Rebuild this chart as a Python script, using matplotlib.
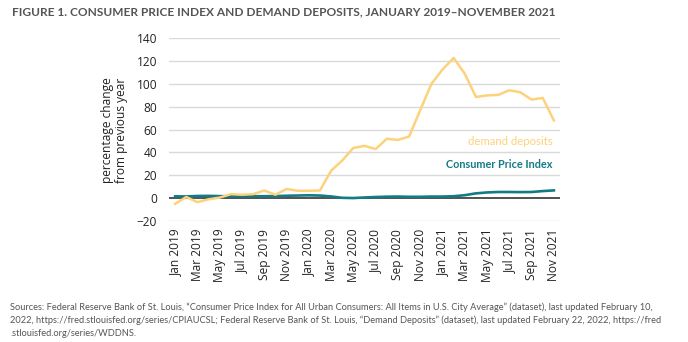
import matplotlib
matplotlib.use("Agg")
import matplotlib.pyplot as plt

months = ["Jan 2019", "Feb 2019", "Mar 2019", "Apr 2019", "May 2019", "Jun 2019",
          "Jul 2019", "Aug 2019", "Sep 2019", "Oct 2019", "Nov 2019", "Dec 2019",
          "Jan 2020", "Feb 2020", "Mar 2020", "Apr 2020", "May 2020", "Jun 2020",
          "Jul 2020", "Aug 2020", "Sep 2020", "Oct 2020", "Nov 2020", "Dec 2020",
          "Jan 2021", "Feb 2021", "Mar 2021", "Apr 2021", "May 2021", "Jun 2021",
          "Jul 2021", "Aug 2021", "Sep 2021", "Oct 2021", "Nov 2021"]

demand_deposits = [-5, 1, -3.5, -1, 0.5, 3.5, 3, 3.5, 6.7, 3, 8, 6.5,
                   6.5, 6.7, 24, 33, 44, 45.8, 43, 52, 51, 54, 77, 100,
                   112.6, 122.8, 109, 88.6, 90, 90.4, 94.5, 92.7, 86.3, 87.8, 68]

cpi = [1.6, 1.5, 1.9, 2.0, 1.8, 1.6, 1.8, 1.7, 1.7, 1.8, 2.1, 2.3,
       2.5, 2.3, 1.5, 0.3, 0.1, 0.6, 1.0, 1.3, 1.4, 1.2, 1.2, 1.4,
       1.4, 1.7, 2.6, 4.2, 5.0, 5.4, 5.4, 5.3, 5.4, 6.2, 6.8]

y_ticks = [-20, 0, 20, 40, 60, 80, 100, 120, 140]

title = "FIGURE 1. CONSUMER PRICE INDEX AND DEMAND DEPOSITS, JANUARY 2019\u2013NOVEMBER 2021"
y_label = "percentage change\nfrom previous year"
source_lines = [
    "Sources: Federal Reserve Bank of St. Louis, \u201cConsumer Price Index for All Urban Consumers: All Items in U.S. City Average\u201d (dataset), last updated February 10,",
    "2022, https://fred.stlouisfed.org/series/CPIAUCSL; Federal Reserve Bank of St. Louis, \u201cDemand Deposits\u201d (dataset), last updated February 22, 2022, https://fred",
    ".stlouisfed.org/series/WDDNS.",
]

DD_COLOR = "#FDD27C"
CPI_COLOR = "#117C85"
GRID = "#DADADA"
TXT = "#222222"
NOTE = "#555555"

plt.rcParams['font.family'] = ['Open Sans', 'DejaVu Sans']

fig = plt.figure(figsize=(6.88, 3.42), dpi=100)
ax = fig.add_axes([169/688, 1 - 221/342, (560 - 169)/688, (221 - 38.3)/342])

x = list(range(len(months)))
ax.plot(x, cpi, color=CPI_COLOR, lw=1.9, zorder=3)
ax.plot(x, demand_deposits, color=DD_COLOR, lw=1.8, zorder=4)

ax.set_xlim(-0.55, len(months) - 1 + 0.55)
ax.set_ylim(-20, 140)
ax.set_yticks(y_ticks)
ax.set_yticklabels([("\u2212%d" % -v) if v < 0 else str(v) for v in y_ticks])
ax.set_xticks(x[::2])
ax.set_xticklabels(months[::2], rotation=90)

for v in y_ticks:
    if v != 0:
        ax.axhline(v, color=GRID, lw=1, zorder=1)
ax.axhline(0, color="#333333", lw=1.2, zorder=2)

for s in ax.spines.values():
    s.set_visible(False)
ax.tick_params(axis='both', length=0, labelsize=8.6, colors=TXT)
ax.tick_params(axis='y', pad=8.6)
ax.tick_params(axis='x', pad=5.5)

yl = fig.text(114.7/688, 1 - 130.5/342, y_label, fontsize=10.5, color=TXT, rotation=90,
              ha='center', va='center', multialignment='center', linespacing=1.05)

dd_t = ax.text(33.9, 50, "demand deposits", color=DD_COLOR, fontsize=9, ha='right',
               va='center', family=['Lato', 'DejaVu Sans'])
cpi_t = ax.text(33.9, 29.5, "Consumer Price Index", color=CPI_COLOR, fontsize=9, ha='right',
                va='center', fontweight='bold', family=['Lato', 'DejaVu Sans'])

t = fig.text(12/688, 1 - 12/342, title, fontsize=9, fontweight='bold', color=NOTE,
             ha='left', va='center', family=['Lato', 'DejaVu Sans'])
src = []
for i, line in enumerate(source_lines):
    src.append(fig.text(10/688, 1 - (307 + 13 * i)/342, line, fontsize=7, color=NOTE,
                        ha='left', va='center', family=['Lato', 'DejaVu Sans']))

# fit text sizes to the reference extents (pixels)
fig.canvas.draw()
r = fig.canvas.get_renderer()

def fit(txt, target, dim="width", group=None):
    ext = txt.get_window_extent(r)
    cur = ext.width if dim == "width" else ext.height
    fs = txt.get_fontsize() * target / cur
    for tt in (group or [txt]):
        tt.set_fontsize(fs)

fit(t, 544)
fit(src[0], 649, group=src)
fit(dd_t, 85)
fit(cpi_t, 107)
fit(yl, 107, dim="height")

fig.savefig("out.png", dpi=100)
